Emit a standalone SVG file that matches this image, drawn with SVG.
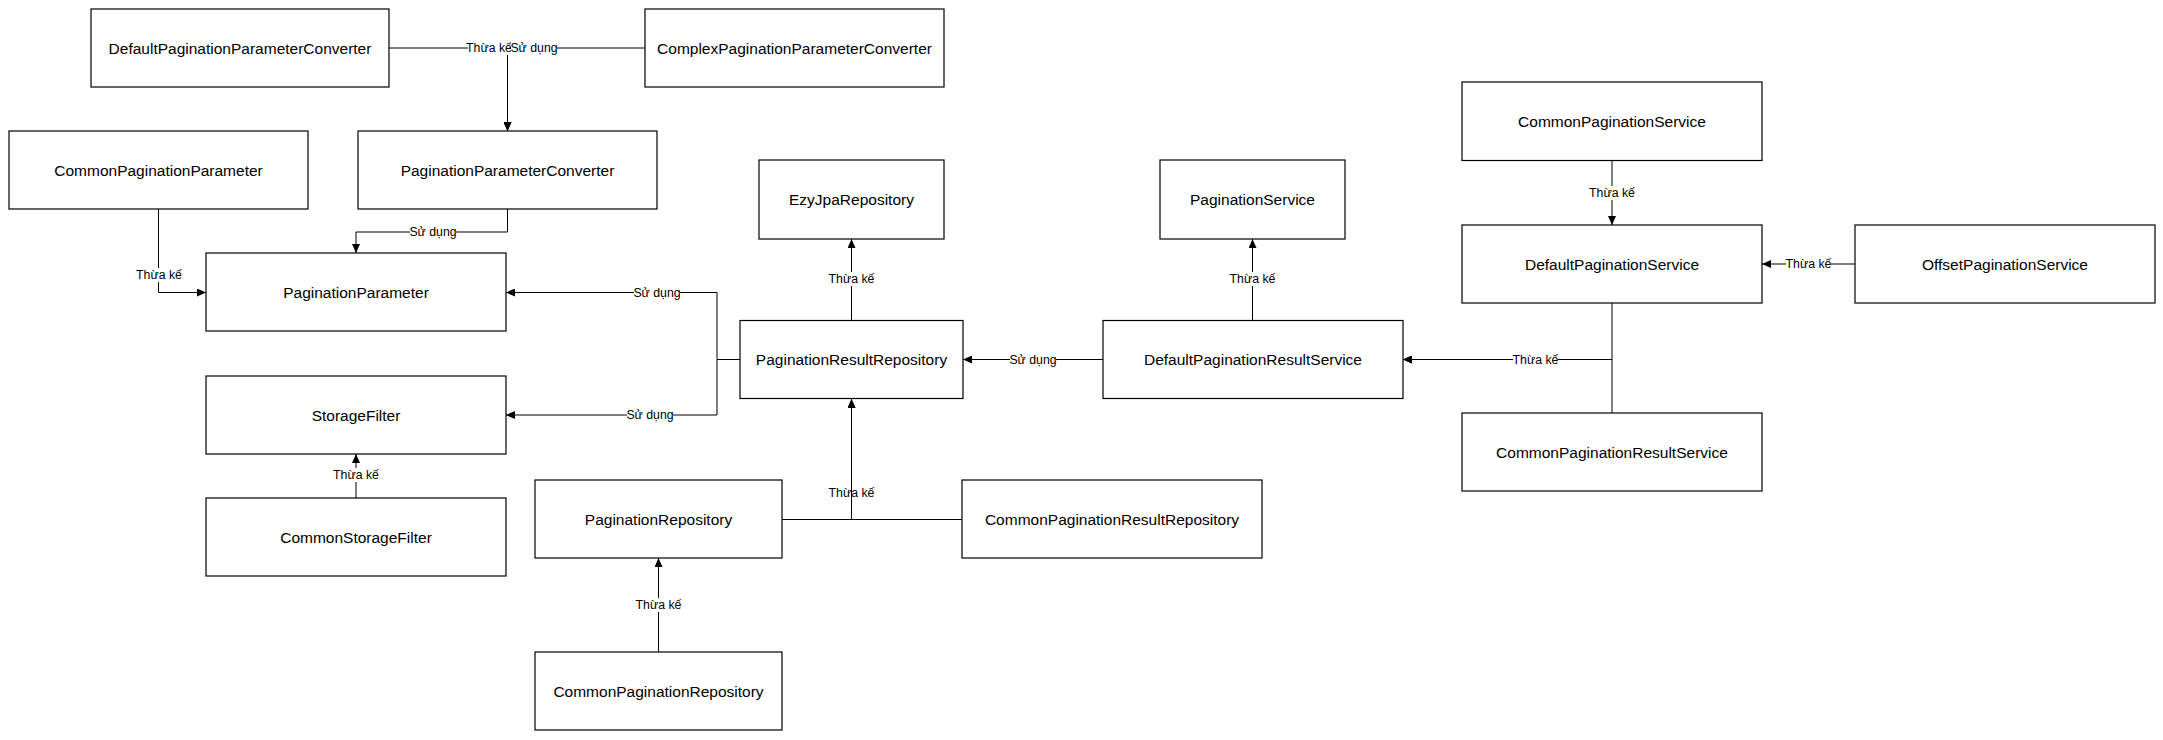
<svg xmlns="http://www.w3.org/2000/svg" width="2163" height="740" viewBox="0 0 2163 740">
<style>
.box{fill:#fff;stroke:#000;stroke-width:1.2}
.nt{font-family:"Liberation Sans",Arial,sans-serif;font-size:15.5px;fill:#000;text-anchor:middle;dominant-baseline:central}
.ln{fill:none;stroke:#000;stroke-width:1}
.lb{font-family:"Liberation Sans",Arial,sans-serif;font-size:12.3px;fill:#000;text-anchor:middle;dominant-baseline:central}
.lbg{fill:#fff}
</style>
<defs>
<marker id="ah" markerWidth="9" markerHeight="8" refX="9" refY="4" orient="auto" markerUnits="userSpaceOnUse">
<path d="M0,0 L9,4 L0,8 Z" fill="#000"/>
</marker>
</defs>
<rect width="2163" height="740" fill="#fff"/>
<g id="connectors">
<path class="ln" d="M389,48 H507.5 V131" marker-end="url(#ah)"/>
<path class="ln" d="M645,48 H507.5 V131" marker-end="url(#ah)"/>
<rect class="lbg" x="468" y="41" width="41" height="14"/>
<text class="lb" x="489" y="48">Thừa kế</text>
<rect class="lbg" x="511" y="41" width="46" height="14"/>
<text class="lb" x="534" y="48">Sử dụng</text>
<path class="ln" d="M507.5,60 V131"/>

<path class="ln" d="M158.5,209 V292.5 H206" marker-end="url(#ah)"/>
<rect class="lbg" x="137" y="268" width="44" height="14"/>
<text class="lb" x="159" y="275">Thừa kế</text>

<path class="ln" d="M507.5,209 V232 H356 V253" marker-end="url(#ah)"/>
<rect class="lbg" x="410" y="225" width="46" height="14"/>
<text class="lb" x="433" y="232">Sử dụng</text>

<path class="ln" d="M740,359.5 H717 V292.5 H506" marker-end="url(#ah)"/>
<rect class="lbg" x="634" y="285" width="46" height="14"/>
<text class="lb" x="657" y="292.5">Sử dụng</text>
<path class="ln" d="M740,359.5 H717 V415 H506" marker-end="url(#ah)"/>
<rect class="lbg" x="627" y="408" width="46" height="14"/>
<text class="lb" x="650" y="415">Sử dụng</text>

<path class="ln" d="M851.5,320 V239" marker-end="url(#ah)"/>
<rect class="lbg" x="829" y="272" width="45" height="14"/>
<text class="lb" x="851.5" y="279">Thừa kế</text>

<path class="ln" d="M1103,359.5 H963" marker-end="url(#ah)"/>
<rect class="lbg" x="1010" y="352" width="46" height="14"/>
<text class="lb" x="1033" y="359.5">Sử dụng</text>

<path class="ln" d="M1252.5,320 V239" marker-end="url(#ah)"/>
<rect class="lbg" x="1230" y="272" width="45" height="14"/>
<text class="lb" x="1252.5" y="279">Thừa kế</text>

<path class="ln" d="M1612,160.5 V225" marker-end="url(#ah)"/>
<rect class="lbg" x="1590" y="186" width="45" height="14"/>
<text class="lb" x="1612" y="193">Thừa kế</text>

<path class="ln" d="M1855,264 H1762" marker-end="url(#ah)"/>
<rect class="lbg" x="1786" y="257" width="45" height="14"/>
<text class="lb" x="1808.5" y="264">Thừa kế</text>

<path class="ln" d="M1612,303 V359.5 H1403" marker-end="url(#ah)"/>
<path class="ln" d="M1612,413 V359.5 H1403" marker-end="url(#ah)"/>
<rect class="lbg" x="1513" y="353" width="45" height="14"/>
<text class="lb" x="1535.5" y="360">Thừa kế</text>

<rect class="lbg" x="829" y="486" width="45" height="14"/>
<text class="lb" x="851.5" y="493">Thừa kế</text>
<path class="ln" d="M782,519.5 H851.5 V399" marker-end="url(#ah)"/>
<path class="ln" d="M962,519.5 H851.5 V399" marker-end="url(#ah)"/>

<path class="ln" d="M658.5,652 V558" marker-end="url(#ah)"/>
<rect class="lbg" x="636" y="598" width="45" height="14"/>
<text class="lb" x="658.5" y="605">Thừa kế</text>

<path class="ln" d="M356,498 V454" marker-end="url(#ah)"/>
<rect class="lbg" x="334" y="468" width="45" height="14"/>
<text class="lb" x="356" y="475">Thừa kế</text>
</g>

<g id="DefaultPaginationParameterConverter"><rect class="box" x="91" y="9" width="298" height="78"/><text class="nt" x="240" y="48">DefaultPaginationParameterConverter</text></g>
<g id="ComplexPaginationParameterConverter"><rect class="box" x="645" y="9" width="299" height="78"/><text class="nt" x="794.5" y="48">ComplexPaginationParameterConverter</text></g>
<g id="CommonPaginationParameter"><rect class="box" x="9" y="131" width="299" height="78"/><text class="nt" x="158.5" y="170">CommonPaginationParameter</text></g>
<g id="PaginationParameterConverter"><rect class="box" x="358" y="131" width="299" height="78"/><text class="nt" x="507.5" y="170">PaginationParameterConverter</text></g>
<g id="EzyJpaRepository"><rect class="box" x="759" y="160" width="185" height="79"/><text class="nt" x="851.5" y="199.5">EzyJpaRepository</text></g>
<g id="PaginationService"><rect class="box" x="1160" y="160" width="185" height="79"/><text class="nt" x="1252.5" y="199.5">PaginationService</text></g>
<g id="CommonPaginationService"><rect class="box" x="1462" y="82" width="300" height="78.5"/><text class="nt" x="1612" y="121">CommonPaginationService</text></g>
<g id="DefaultPaginationService"><rect class="box" x="1462" y="225" width="300" height="78"/><text class="nt" x="1612" y="264">DefaultPaginationService</text></g>
<g id="OffsetPaginationService"><rect class="box" x="1855" y="225" width="300" height="78"/><text class="nt" x="2005" y="264">OffsetPaginationService</text></g>
<g id="PaginationParameter"><rect class="box" x="206" y="253" width="300" height="78"/><text class="nt" x="356" y="292.5">PaginationParameter</text></g>
<g id="PaginationResultRepository"><rect class="box" x="740" y="320.5" width="223" height="78"/><text class="nt" x="851.5" y="359.5">PaginationResultRepository</text></g>
<g id="DefaultPaginationResultService"><rect class="box" x="1103" y="320.5" width="300" height="78"/><text class="nt" x="1253" y="359.5">DefaultPaginationResultService</text></g>
<g id="StorageFilter"><rect class="box" x="206" y="376" width="300" height="78"/><text class="nt" x="356" y="415">StorageFilter</text></g>
<g id="CommonPaginationResultService"><rect class="box" x="1462" y="413" width="300" height="78"/><text class="nt" x="1612" y="452">CommonPaginationResultService</text></g>
<g id="CommonStorageFilter"><rect class="box" x="206" y="498" width="300" height="78"/><text class="nt" x="356" y="537">CommonStorageFilter</text></g>
<g id="PaginationRepository"><rect class="box" x="535" y="480" width="247" height="78"/><text class="nt" x="658.5" y="519">PaginationRepository</text></g>
<g id="CommonPaginationResultRepository"><rect class="box" x="962" y="480" width="300" height="78"/><text class="nt" x="1112" y="519">CommonPaginationResultRepository</text></g>
<g id="CommonPaginationRepository"><rect class="box" x="535" y="652" width="247" height="78"/><text class="nt" x="658.5" y="691">CommonPaginationRepository</text></g>
</svg>
